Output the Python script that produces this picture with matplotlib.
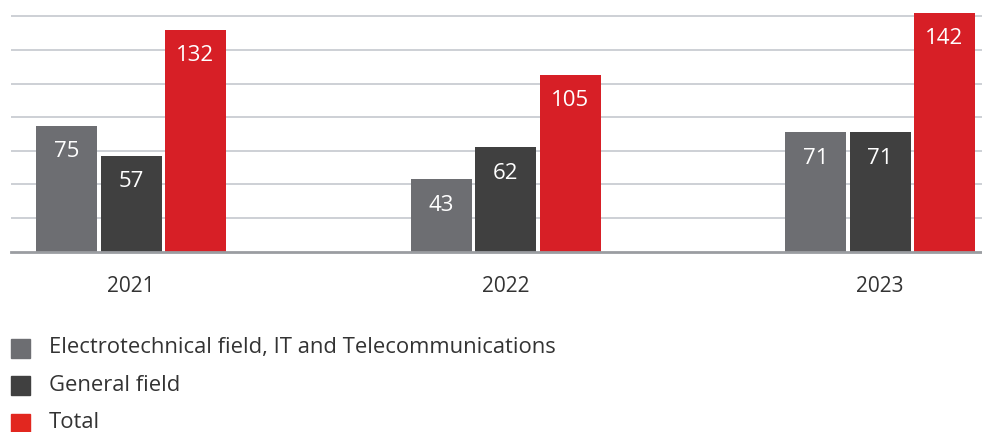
import matplotlib
matplotlib.use("Agg")
import matplotlib.pyplot as plt
from matplotlib.patches import Rectangle
import numpy as np

plt.rcParams['font.family'] = ['Open Sans', 'DejaVu Sans']

years = ["2021", "2022", "2023"]
series_names = ["Electrotechnical field, IT and Telecommunications", "General field", "Total"]
electro = [75, 43, 71]
general = [57, 62, 71]
total = [132, 105, 142]
series_values = [electro, general, total]
colors = ["#6d6e72", "#404040", "#d71f26"]
legend_colors = ["#6d6e72", "#404040", "#e2271f"]

W, H = 982, 432
fig = plt.figure(figsize=(W / 100, H / 100), dpi=100)
px_per_unit = 1.681
y_top_val = 145
base_y = 251.7
top_y = base_y - y_top_val * px_per_unit
ax = fig.add_axes([11 / W, (H - base_y) / H, 1 - 11 / W, (base_y - top_y) / H])

step = 64.5 / 374.5
width = 61 / 374.5
x = np.arange(len(years))
for i, (vals, col) in enumerate(zip(series_values, colors)):
    xs = x + (i - 1) * step
    ax.bar(xs, vals, width=width, color=col, zorder=3)
    for xi, v in zip(xs, vals):
        ax.annotate(str(v), (xi, v), xytext=(0, -18.5), textcoords="offset points",
                    ha="center", va="center", color="white", fontsize=16, zorder=4)

ax.set_xlim((11 - 131) / 374.5, (982 - 131) / 374.5)
ax.set_ylim(0, y_top_val)
ax.set_yticks(np.arange(20, 141, 20))
ax.yaxis.grid(True, color="#c9cdd2", linewidth=1.3, zorder=0)
ax.tick_params(axis="y", left=False, labelleft=False)
ax.set_xticks(x)
ax.set_xticklabels(years, fontsize=15, color="#333333")
ax.tick_params(axis="x", length=0, pad=17.5)
for s in ["top", "right", "left"]:
    ax.spines[s].set_visible(False)
ax.spines["bottom"].set_color("#9a9da1")
ax.spines["bottom"].set_linewidth(2)
ax.spines["bottom"].set_zorder(5)

# legend
rows_y = [348, 385.5, 423]
sq = 19
for name, col, ry in zip(series_names, legend_colors, rows_y):
    fig.patches.append(Rectangle((11 / W, (H - ry - sq / 2) / H), sq / W, sq / H,
                                 transform=fig.transFigure, color=col, figure=fig))
    fig.text(49 / W, (H - ry) / H, name, ha="left", va="center", fontsize=15.8, color="#333333")

fig.savefig("out.png", dpi=100)
